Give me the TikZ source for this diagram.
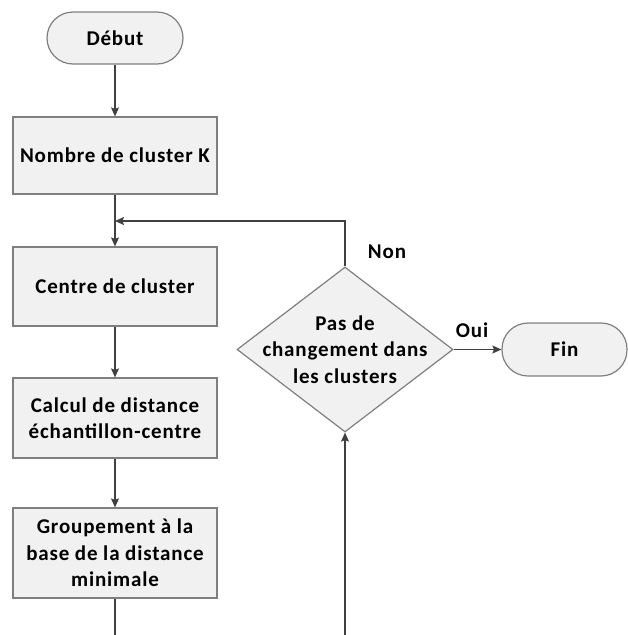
\documentclass[tikz,border=0pt]{standalone}
\usepackage{fontspec}
\setmainfont{Carlito}[LetterSpace=4]
\usetikzlibrary{shapes.geometric,arrows.meta}

\definecolor{boxfill}{HTML}{F1F1F1}
\definecolor{boxline}{HTML}{7F7F7F}
\definecolor{arrowcol}{HTML}{404040}

\tikzstyle{process} = [draw=boxline, fill=boxfill, line width=1.2pt, minimum width=204pt, inner sep=2pt, align=center, font=\bfseries\fontsize{21}{26.5}\selectfont]
\tikzstyle{terminal} = [process, rounded corners=26pt, minimum height=52pt]
\tikzstyle{decision} = [draw=boxline, fill=boxfill, line width=1.2pt, diamond, minimum width=216pt, minimum height=165pt, inner sep=0pt]
\tikzstyle{answer} = [font=\bfseries\fontsize{21}{26.5}\selectfont]
\tikzstyle{arrow} = [line width=1.3pt, draw=arrowcol, ->, >={Stealth[length=9pt,width=8pt,inset=1.5pt]}]
\tikzstyle{flow} = [line width=1.3pt, draw=arrowcol]

\begin{document}
\begin{tikzpicture}[x=1pt,y=-1pt]
\useasboundingbox (0,0) rectangle (628,635);

% Main column
\node [terminal, minimum width=136pt] (debut) at (115,38) {Début};
\node [process, minimum height=77pt] (nombre) at (115,155.5) {Nombre de cluster K};
\node [process, minimum height=79pt] (centre) at (115,286.5) {Centre de cluster};
\node [process, minimum height=80pt] (calcul) at (115,418) {Calcul de distance\\échantillon-centre};
\node [process, minimum height=90pt] (groupe) at (115,553) {Groupement à la\\base de la distance\\minimale};

% Test and end
\node [decision] (test) at (345,349.5) {};
\node [answer, align=center] (testtext) at (test) {Pas de\\changement dans\\les clusters};
\node [terminal, minimum width=125pt, minimum height=53pt] (fin) at (564.5,349.5) {Fin};

% Labels
\node [answer] (non) at (387,252) {Non};
\node [answer] (oui) at (472,330) {Oui};

% Free ends and merge point
\coordinate (merge) at (115,221);
\coordinate (outA) at (115,635);
\coordinate (outB) at (345,635);

% Connectors
\draw [arrow] (debut) -- (nombre);
\draw [arrow] (nombre) -- (centre);
\draw [arrow] (centre) -- (calcul);
\draw [arrow] (calcul) -- (groupe);
\draw [flow] (groupe) -- (outA);
\draw [arrow] (outB) -- (test.south);
\draw [arrow] (test.north) |- (merge);
\draw [arrow] (test.east) -- (fin);

\end{tikzpicture}
\end{document}
